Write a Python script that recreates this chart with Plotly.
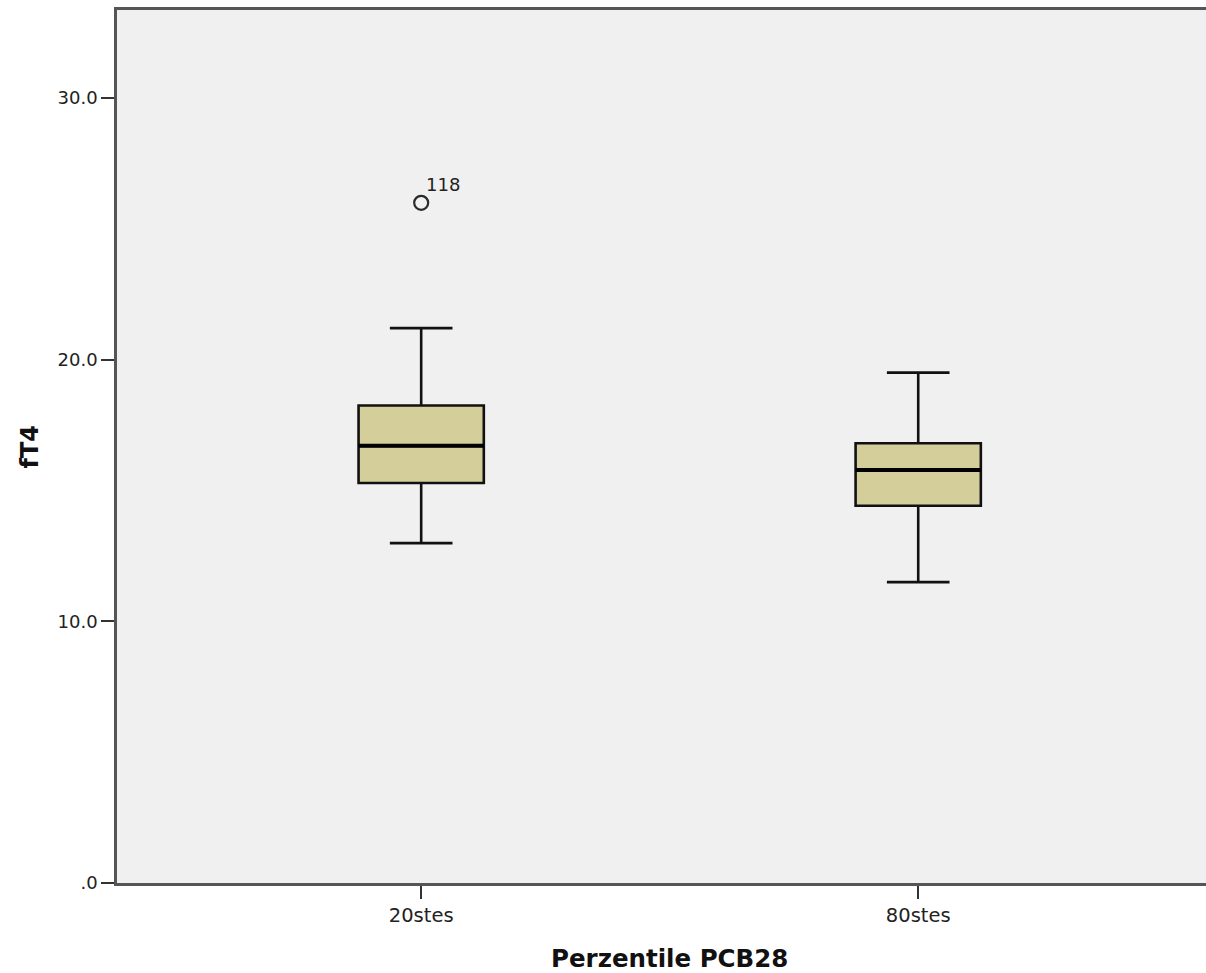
import plotly.graph_objects as go

categories = ["20stes", "80stes"]
lower_whisker = [12.99, 11.50]
q1_values = [15.29, 14.42]
medians = [16.71, 15.79]
q3_values = [18.25, 16.81]
upper_whisker = [21.21, 19.51]
outlier_cat = ["20stes"]
outlier_val = [26.0]
outlier_label = ["118"]
ytick_vals = [0, 10, 20, 30]
ytick_text = [".0", "10.0", "20.0", "30.0"]

FONT = "DejaVu Sans"
BOX_W = 0.252

fig = go.Figure()

fig.add_trace(go.Box(
    x=categories, q1=q1_values, median=medians, q3=q3_values,
    lowerfence=lower_whisker, upperfence=upper_whisker,
    fillcolor="#D3CE9A", line=dict(color="#111111", width=2.6),
    whiskerwidth=0.5, width=BOX_W, boxpoints=False, showlegend=False,
    hoverinfo="skip",
))

# thick median lines
fig.add_trace(go.Box(
    x=categories, q1=medians, median=medians, q3=medians,
    lowerfence=medians, upperfence=medians,
    fillcolor="rgba(0,0,0,0)", line=dict(color="#000000", width=4),
    whiskerwidth=0, width=BOX_W, boxpoints=False, showlegend=False,
    hoverinfo="skip",
))

fig.add_trace(go.Scatter(
    x=outlier_cat, y=outlier_val, mode="markers",
    marker=dict(symbol="circle-open", size=14, color="#2a2a2a",
                line=dict(width=2.2, color="#2a2a2a")),
    showlegend=False, hoverinfo="skip",
))

for c, v, t in zip(outlier_cat, outlier_val, outlier_label):
    fig.add_annotation(x=c, y=v, text=t, showarrow=False, xanchor="left",
                       yanchor="bottom", xshift=3, yshift=6,
                       font=dict(family=FONT, size=18, color="#222222"))

fig.add_annotation(text="<b>fT4</b>", xref="paper", yref="paper", x=0, y=0.5,
                   xanchor="center", yanchor="middle", xshift=-88, textangle=-90,
                   showarrow=False, font=dict(family=FONT, size=24, color="#111111"))
fig.add_annotation(text="<b>Perzentile PCB28</b>", xref="x", yref="paper", x=0.5, y=0,
                   xanchor="center", yanchor="middle", yshift=-75,
                   showarrow=False, font=dict(family=FONT, size=24.5, color="#111111"))

fig.update_layout(
    width=1206, height=973,
    margin=dict(l=117, r=0, t=10, b=90, pad=0),
    paper_bgcolor="white", plot_bgcolor="#F0F0F0",
    boxmode="overlay",
    font=dict(family=FONT, size=18, color="#222222"),
)
fig.update_xaxes(
    type="category", categoryarray=categories, range=[-0.612, 1.579],
    showline=True, linecolor="#555555", linewidth=2.5, mirror=True,
    ticks="outside", ticklen=13, tickwidth=2, tickcolor="#333333",
    showgrid=False, zeroline=False,
    tickfont=dict(family=FONT, size=19.5, color="#222222"),
)
fig.update_yaxes(
    range=[0, 33.37], tickvals=ytick_vals, ticktext=ytick_text,
    showline=True, linecolor="#555555", linewidth=2.5,
    ticks="outside", ticklen=13, tickwidth=2, tickcolor="#333333",
    showgrid=False, zeroline=False, ticklabelstandoff=0,
    tickfont=dict(family=FONT, size=18, color="#222222"),
)

fig.write_html("out.html", config={"displayModeBar": False},
               post_script="document.body.style.margin='0';document.body.style.overflow='hidden';")
